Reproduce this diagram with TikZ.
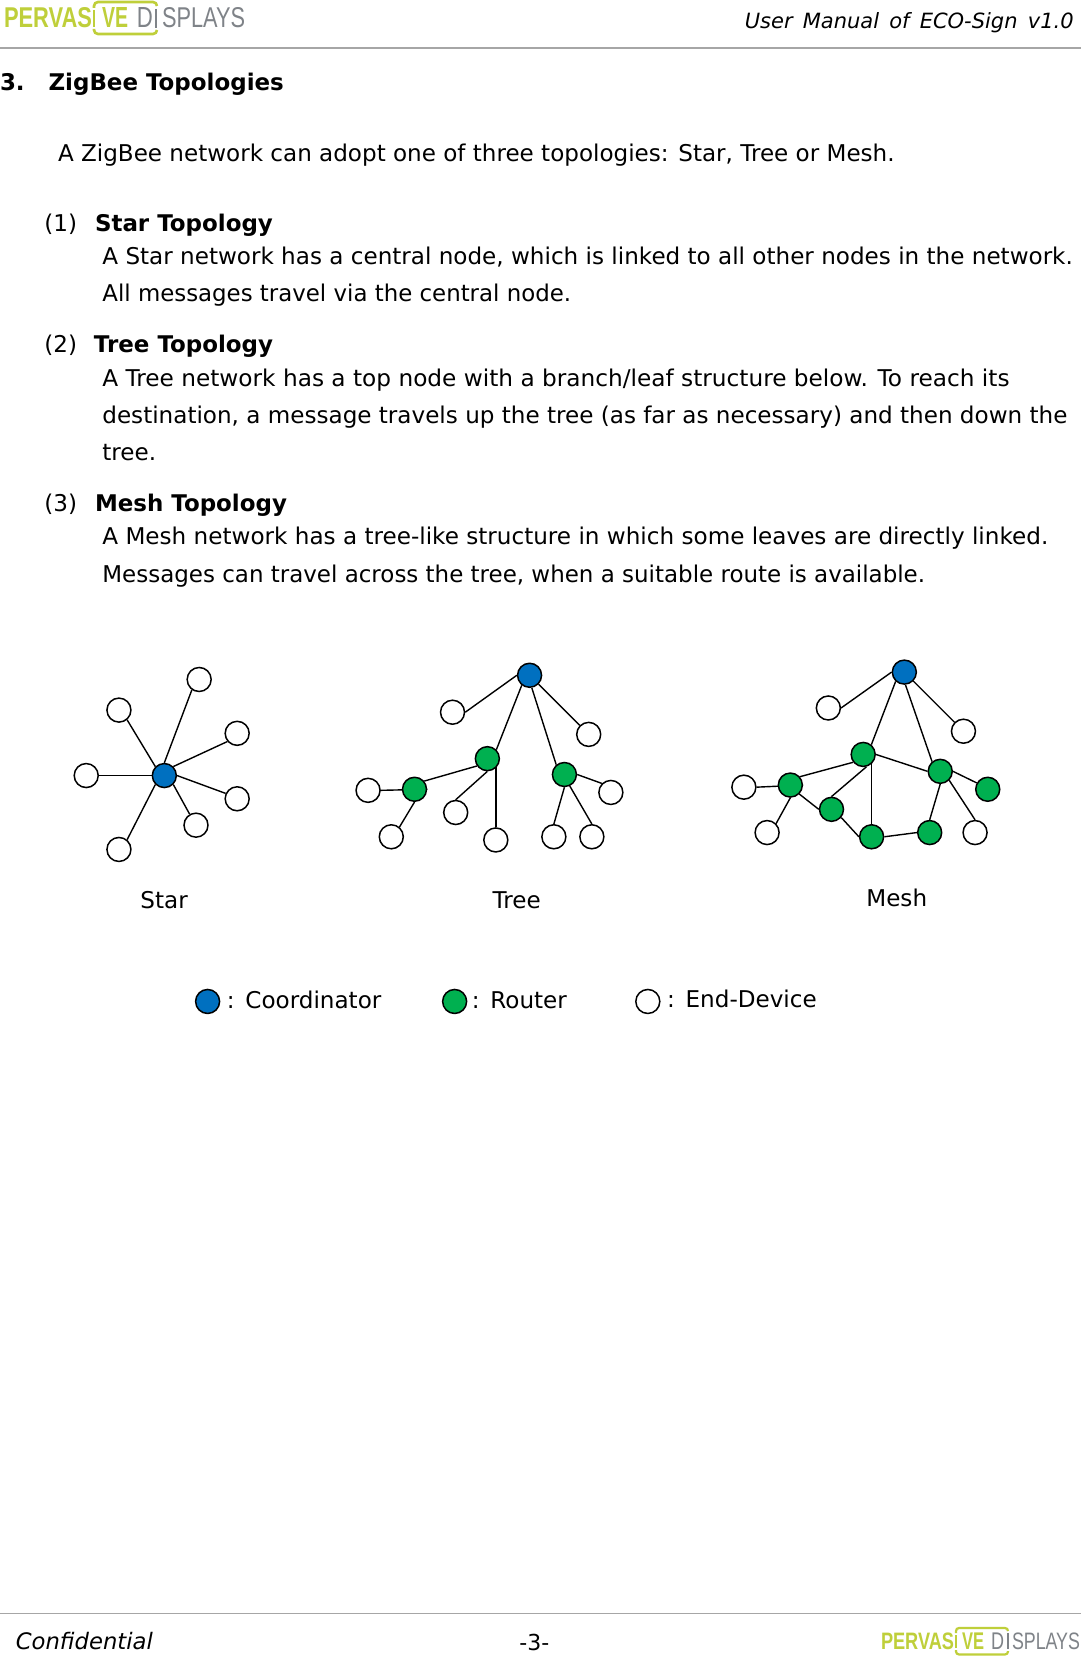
\documentclass[tikz,border=0pt]{standalone}
\usepackage{fontspec}
\setmainfont{DejaVu Sans}
\newfontfamily\logofont{Liberation Sans}
\usetikzlibrary{backgrounds}
\definecolor{cblue}{HTML}{0070C0}
\definecolor{cgreen}{HTML}{00B050}
\definecolor{logog}{HTML}{BFCF3A}
\definecolor{logoy}{HTML}{7F8388}
\definecolor{rulec}{HTML}{A6A6A6}
\tikzset{
  x=1.05566pt,y=-1.05566pt,
  txt/.style={anchor=base west,inner sep=0pt,outer sep=0pt,yshift=-1pt,font=\fontsize{23.08}{28}\selectfont,text=black},
  bold/.style={txt,font=\fontsize{22.95}{28}\selectfont\bfseries},
  hdr/.style={txt,font=\fontsize{21}{26}\selectfont\itshape},
  dev/.style={circle,draw=black,line width=1.5pt,minimum size=24pt,inner sep=0pt,fill=white,xshift=.7pt,yshift=-.7pt},
  coord/.style={dev,fill=cblue},
  router/.style={dev,fill=cgreen},
  link/.style={draw=black,line width=1.4pt},
  rulel/.style={draw=rulec,line width=1.1pt},
  logotext/.style={anchor=base west,inner sep=0pt,outer sep=0pt},
}
\newcommand{\lgg}[3]{\resizebox{#1pt}{#2pt}{\logofont\bfseries\textcolor{logog}{#3}}}
\newcommand{\lgy}[3]{\resizebox{#1pt}{#2pt}{\logofont\textcolor{logoy}{#3}}}
\begin{document}
\begin{tikzpicture}
\begin{pgfonlayer}{background}
\fill[white] (0,0) rectangle (1024,1568.7);
\end{pgfonlayer}
\useasboundingbox (0,0) rectangle (1024,1568.7);
% header / footer
\coordinate (hl) at (0,45.5); \coordinate (hr) at (1024,45.5);
\coordinate (fl) at (0,1528.5); \coordinate (fr) at (1024,1528.5);
\draw[rulel] (hl) -- (hr);
\draw[rulel] (fl) -- (fr);
% logo top (full-size pixel coordinates)
\begin{scope}[x=1pt,y=-1pt]
\node[logotext] (lg1) at (4,28) {\lgg{88}{20}{PERVAS}};
\node[logotext] (lg2) at (102,28) {\lgg{26}{20}{VE}};
\node[logotext] (lg3) at (137,28) {\lgy{16}{20}{D}};
\node[logotext] (lg4) at (162,28) {\lgy{83}{20}{SPLAYS}};
\draw[logog,line width=2.6pt,rounded corners=4pt] (94,8) -- (94,2) -- (157,2) -- (157,6);
\draw[logog,line width=2.6pt,rounded corners=4pt] (94,29) -- (94,34) -- (157,34) -- (157,30);
\draw[logog,line width=2.6pt] (94,10) -- (94,27);
\draw[logoy,line width=2.2pt] (156,9) -- (156,28);
% logo bottom
\node[logotext] (fl1) at (881,1649) {\lgg{73}{16.6}{PERVAS}};
\node[logotext] (fl2) at (962,1649) {\lgg{22}{16.6}{VE}};
\node[logotext] (fl3) at (991,1649) {\lgy{13}{16.6}{D}};
\node[logotext] (fl4) at (1012,1649) {\lgy{68}{16.6}{SPLAYS}};
\draw[logog,line width=2.2pt,rounded corners=3pt] (956,1633) -- (956,1628) -- (1008,1628) -- (1008,1631);
\draw[logog,line width=2.2pt,rounded corners=3pt] (956,1650) -- (956,1654.5) -- (1008,1654.5) -- (1008,1651);
\draw[logog,line width=2.2pt] (956,1635) -- (956,1648);
\draw[logoy,line width=1.8pt] (1008,1633) -- (1008,1649);
\end{scope}
\node[hdr,anchor=base east] (hdrt) at (1017,26) {User\, Manual\, of\, ECO-Sign\, v1.0};
% body
\node[bold] (t0) at (0,85) {3.};
\node[bold] (t1) at (46,85) {ZigBee Topologies};
\node[txt] (t2) at (55,152) {\scalebox{0.999}[1]{A ZigBee network can adopt one of three topologies: Star, Tree or Mesh.}};
\node[txt] (s1) at (42,218) {(1)};
\node[bold] (s1b) at (90,218) {Star Topology};
\node[txt] (a1) at (97,250) {A Star network has a central node, which is linked to all other nodes in the network.};
\node[txt] (a2) at (97,285) {\scalebox{0.991}[1]{All messages travel via the central node.}};
\node[txt] (s2) at (42,333) {(2)};
\node[bold] (s2b) at (89,333) {Tree Topology};
\node[txt] (b1) at (97,365) {\scalebox{1.006}[1]{A Tree network has a top node with a branch/leaf structure below. To reach its}};
\node[txt] (b2) at (97,400) {destination, a message travels up the tree (as far as necessary) and then down the};
\node[txt] (b3) at (97,435) {tree.};
\node[txt] (s3) at (42,484) {(3)};
\node[bold] (s3b) at (90,484) {Mesh Topology};
\node[txt] (c1) at (97,515) {\scalebox{1.001}[1]{A Mesh network has a tree-like structure in which some leaves are directly linked.}};
\node[txt] (c2) at (97,551) {\scalebox{0.995}[1]{Messages can travel across the tree, when a suitable route is available.}};
% star
\node[coord] (scen) at (155,734) {};
\foreach \n/\x/\y in {a/188/643,b/112/672,c/224/694,d/81/734,e/224/756,f/185/781,g/112/804}{
  \node[dev] (st\n) at (\x,\y) {};
}
% tree
\node[coord] (tr) at (501,639) {};
\node[dev] (tl1) at (428,674) {};
\node[dev] (tl2) at (557,695) {};
\node[router] (tm) at (461,718) {};
\node[router] (tn) at (534,733) {};
\node[router] (to) at (392,747) {};
\node[dev] (tl3) at (348,748) {};
\node[dev] (tl4) at (370,792) {};
\node[dev] (tl5) at (431,769) {};
\node[dev] (tl6) at (469,795) {};
\node[dev] (tl7) at (578,750) {};
\node[dev] (tl8) at (524,792) {};
\node[dev] (tl9) at (560,792) {};
% mesh
\node[coord] (mr) at (856,636) {};
\node[dev] (ml1) at (784,670) {};
\node[dev] (ml2) at (912,692) {};
\node[router] (m1) at (817,714) {};
\node[router] (m2) at (890,730) {};
\node[router] (m3) at (935,747) {};
\node[router] (m5) at (748,743) {};
\node[router] (m6) at (787,766) {};
\node[router] (m7) at (825,792) {};
\node[router] (m8) at (880,788) {};
\node[dev] (ml3) at (704,745) {};
\node[dev] (ml4) at (726,788) {};
\node[dev] (ml5) at (923,788) {};
\begin{pgfonlayer}{background}
% star links
\draw[link] (scen.north) -- (sta.235);
\draw[link] (scen.135) -- (stb.-50);
\draw[link] (scen.45) -- (stc.-140);
\draw[link] (scen) -- (std);
\draw[link] (scen.east) -- (ste.155);
\draw[link] (scen.-45) -- (stf.120);
\draw[link] (scen.-135) -- (stg.50);
% tree links
\draw[link] (tl1.east) -- (tr.west);
\draw[link] (tr.-45) -- (tl2.135);
\draw[link] (tr.-128) -- (tm.45);
\draw[link] (tr.-80) -- (tn.130);
\draw[link] (tm.215) -- (to.40);
\draw[link] (tm.south) -- (tl5.north);
\draw[link] (tl6.north) -- (tl6 |- tm);
\draw[link] (to.east) -- (tl3.east);
\draw[link] (to.south) -- (tl4.50);
\draw[link] (tn.east) -- (tl7.135);
\draw[link] (tn.south) -- (tl8.north);
\draw[link] (tn.-65) -- (tl9.north);
% mesh links
\draw[link] (ml1.east) -- (mr.west);
\draw[link] (mr.-45) -- (ml2.135);
\draw[link] (mr.-133) -- (m1.50);
\draw[link] (mr.-85) -- (m2.130);
\draw[link] (m1.east) -- (m2.west);
\draw[link] (m1.218) -- (m5.41);
\draw[link] (m1.-75) -- (m6.north);
\draw[link] (m7.north) -- (m7 |- m1);
\draw[link] (m5.east) -- (ml3.east);
\draw[link] (m5.south) -- (ml4.45);
\draw[link] (m5.-45) -- (m6.west);
\draw[link] (m6.-40) -- (m7.west);
\draw[link] (m7.east) -- (m8.west);
\draw[link] (m8.north) -- (m2.south);
\draw[link] (m2.east) -- (m3.150);
\draw[link] (m2.-45) -- (ml5.north);
\end{pgfonlayer}
% captions
\node[txt] (cs) at (133,860) {Star};
\node[txt] (ct) at (466.7,860) {Tree};
\node[txt] (cm) at (820.7,858) {Mesh};
% legend
\node[coord] (k1) at (196,948) {};
\node[router] (k2) at (430,948) {};
\node[dev] (k3) at (613,948) {};
\node[txt] (k1c) at (215,954.5) {:};
\node[txt] (k1t) at (232.5,954.5) {Coordinator};
\node[txt] (k2c) at (447,954.5) {:};
\node[txt] (k2t) at (464.5,954.5) {Router};
\node[txt] (k3c) at (632,953.5) {:};
\node[txt] (k3t) at (649.5,953.5) {End-Device};
% footer
\node[hdr,font=\fontsize{22.7}{28}\selectfont\itshape] (fc) at (15,1562) {Confidential};
\node[txt,font=\fontsize{22}{24}\selectfont] (fp) at (492,1562.5) {-3-};
\end{tikzpicture}
\end{document}
